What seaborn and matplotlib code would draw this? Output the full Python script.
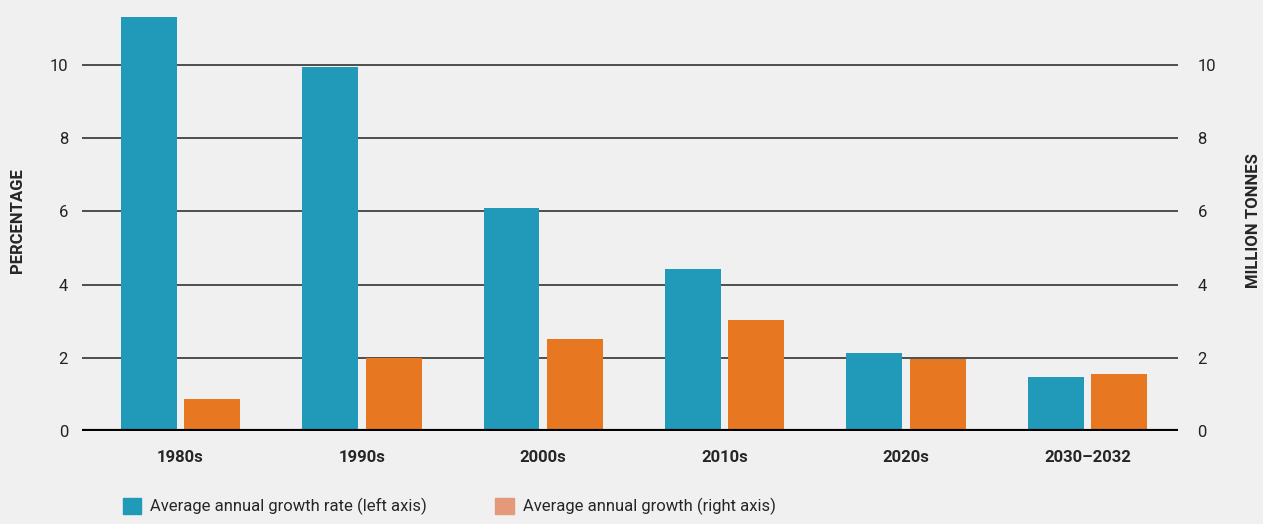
import pandas as pd
import seaborn as sns
import matplotlib.pyplot as plt
from matplotlib.patches import Patch

# data
periods = ['1980s', '1990s', '2000s', '2010s', '2020s', '2030\u20132032']
growth_rate_pct = [11.32, 9.95, 6.10, 4.42, 2.13, 1.47]      # left axis
growth_mt = [0.87, 1.99, 2.52, 3.04, 1.97, 1.55]             # right axis
series_names = ['Average annual growth rate (left axis)',
                'Average annual growth (right axis)']
y_ticks = [0, 2, 4, 6, 8, 10]

teal = '#2199B8'
orange = '#E87722'
orange_legend = '#E3997A'
bg = '#F0F0F0'

sns.set_theme(style='white')
plt.rcParams['font.family'] = ['Roboto', 'DejaVu Sans']
plt.rcParams['axes.facecolor'] = bg
plt.rcParams['figure.facecolor'] = bg

df = pd.DataFrame({
    'period': periods * 2,
    'value': growth_rate_pct + growth_mt,
    'series': [series_names[0]] * len(periods) + [series_names[1]] * len(periods),
})

fig = plt.figure(figsize=(12.63, 5.24), dpi=100)
ax = fig.add_axes([82 / 1263, 1 - 431 / 524, (1178 - 82) / 1263, 421 / 524])

# both series share the same numeric scale, so draw them on one axes
sns.barplot(data=df, x='period', y='value', hue='series', order=periods,
            hue_order=series_names, palette=[teal, orange], width=0.7, gap=0.12,
            saturation=1, legend=False, linewidth=0, ax=ax)

ax.set_ylim(0, 11.5)
ax.set_xlim(-0.543, 5.5)
ax.set_yticks(y_ticks)
ax.grid(axis='y', color='#222222', linewidth=1.1)
ax.set_axisbelow(True)
for s in ax.spines.values():
    s.set_visible(False)
ax.axhline(0, color='black', linewidth=3, zorder=5)
ax.tick_params(axis='y', length=0, pad=10, labelsize=12, colors='#222222')
ax.tick_params(axis='x', length=0, pad=14)
for lbl in ax.get_xticklabels():
    lbl.set_fontweight('bold')
    lbl.set_fontsize(12)
ax.set_xlabel('')
ax.set_ylabel('PERCENTAGE', fontsize=12, fontweight='bold')

# right axis, same scale
ax2 = ax.twinx()
ax2.set_ylim(ax.get_ylim())
ax2.set_yticks(y_ticks)
ax2.tick_params(axis='y', length=0, pad=14, labelsize=12, colors='#222222')
ax2.grid(False)
for s in ax2.spines.values():
    s.set_visible(False)
ax2.set_ylabel('MILLION TONNES', fontsize=12, fontweight='bold')
ax2.yaxis.set_label_coords(1.0625, 0.5)
ax.yaxis.set_label_coords(-0.052, 0.5)

handles = [Patch(color=teal, label=series_names[0]),
           Patch(color=orange_legend, label=series_names[1])]
fig.legend(handles=handles, loc='lower left', bbox_to_anchor=(116 / 1263, 0.004),
           ncol=2, frameon=False, fontsize=12, handlelength=1.1, handleheight=1.1,
           handletextpad=0.55, columnspacing=4.1, borderaxespad=0)

fig.savefig('out.png', dpi=100, facecolor=bg)
